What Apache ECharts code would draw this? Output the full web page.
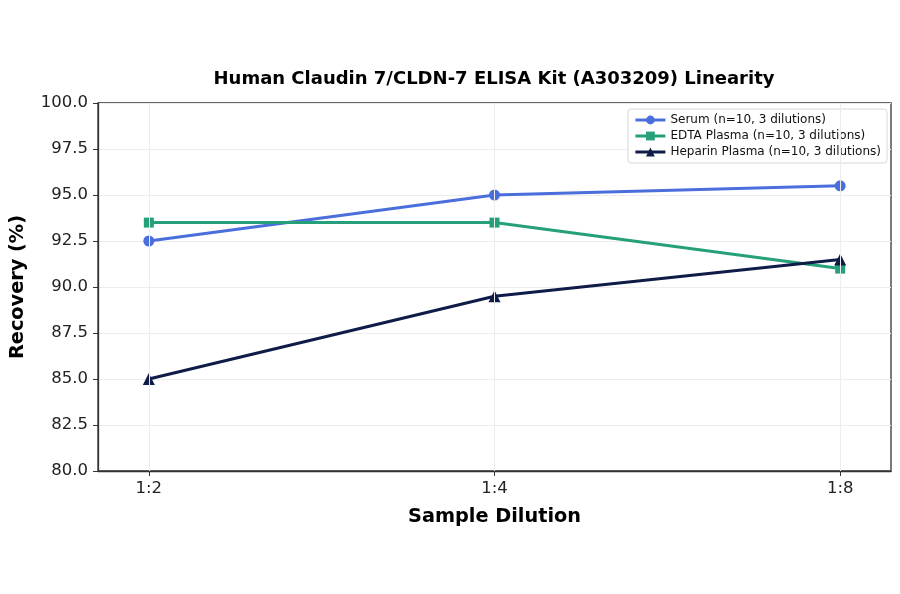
<!DOCTYPE html>
<html>
<head>
<meta charset="utf-8">
<script src="https://cdn.jsdelivr.net/npm/echarts@6/dist/echarts.min.js"></script>
<style>
	html, body { margin: 0; padding: 0; background: #fff; }
	#chart { width: 900px; height: 594px; }
</style>
</head>
<body>
<div id="chart"></div>
<script>
	// dilution categories, placed at 0, 1, 2 on the x axis
	var dilutions = ['1:2', '1:4', '1:8'];
	var serum = [92.5, 95.0, 95.5];
	var edta = [93.5, 93.5, 91.0];
	var heparin = [85.0, 89.5, 91.5];

	function pairs(values) {
		return values.map(function (v, i) { return [i, v]; });
	}

	var font = 'DejaVu Sans';
	var chart = echarts.init(document.getElementById('chart'));

	function line(name, values, color, symbol, size) {
		return {
			name: name,
			type: 'line',
			data: pairs(values),
			symbol: symbol,
			symbolSize: size,
			lineStyle: { color: color, width: 3 },
			itemStyle: { color: color },
			emphasis: { disabled: true },
			z: 3
		};
	}

	chart.setOption({
		animation: false,
		textStyle: { fontFamily: font },
		title: {
			text: 'Human Claudin 7/CLDN-7 ELISA Kit (A303209) Linearity',
			left: 489,
			textAlign: 'center',
			top: 65,
			textStyle: { fontSize: 18, fontWeight: 'bold', color: '#000', fontFamily: font }
		},
		legend: {
			right: 13,
			top: 109,
			orient: 'vertical',
			itemGap: 4,
			itemWidth: 30,
			itemHeight: 11,
			padding: [5, 6, 5, 6],
			borderColor: '#d8d8d8',
			borderWidth: 1,
			borderRadius: 3,
			backgroundColor: 'rgba(255,255,255,0.85)',
			lineStyle: { width: 3 },
			textStyle: { fontSize: 12, color: '#111', fontFamily: font },
			data: [
				'Serum (n=10, 3 dilutions)',
				'EDTA Plasma (n=10, 3 dilutions)',
				'Heparin Plasma (n=10, 3 dilutions)'
			]
		},
		grid: { left: 97, right: 9, top: 103, bottom: 123, show: true, borderColor: '#333', borderWidth: 1.3, backgroundColor: 'transparent' },
		xAxis: {
			type: 'value',
			min: -0.147,
			max: 2.147,
			name: 'Sample Dilution',
			nameLocation: 'middle',
			nameGap: 36,
			nameTextStyle: { fontSize: 19.3, fontWeight: 'bold', color: '#000', fontFamily: font },
			axisLine: { show: true, onZero: false, lineStyle: { color: '#333', width: 1.3 } },
			axisTick: { show: true, length: 5, inside: false, customValues: [0, 1, 2], lineStyle: { color: '#333', width: 1 } },
			axisLabel: {
				customValues: [0, 1, 2],
				fontSize: 16.5,
				color: '#222',
				margin: 9,
				formatter: function (v) { return dilutions[Math.round(v)]; }
			},
			splitLine: { show: false }
		},
		yAxis: {
			type: 'value',
			min: 80,
			max: 100,
			interval: 2.5,
			name: 'Recovery (%)',
			nameLocation: 'middle',
			nameGap: 71,
			nameRotate: 90,
			nameTextStyle: { fontSize: 19.3, fontWeight: 'bold', color: '#000', fontFamily: font },
			axisLine: { show: true, onZero: false, lineStyle: { color: '#333', width: 1.3 } },
			axisTick: { show: true, length: 5, inside: false, lineStyle: { color: '#333', width: 1 } },
			axisLabel: {
				fontSize: 16.5,
				color: '#222',
				margin: 10,
				formatter: function (v) { return v.toFixed(1); }
			},
			splitLine: { show: true, lineStyle: { color: '#ededed', width: 1 } }
		},
		series: [
			line('Serum (n=10, 3 dilutions)', serum, '#4a6fdc', 'circle', 11),
			line('EDTA Plasma (n=10, 3 dilutions)', edta, '#25a07a', 'rect', 10),
			line('Heparin Plasma (n=10, 3 dilutions)', heparin, '#101c48', 'triangle', 12),
			{
				// faint vertical grid lines at each dilution
				type: 'line',
				data: [],
				silent: true,
				markLine: {
					symbol: 'none',
					silent: true,
					label: { show: false },
					lineStyle: { color: '#ededed', width: 1, type: 'solid' },
					data: dilutions.map(function (d, i) { return { xAxis: i }; })
				},
				z: 1
			}
		]
	});
</script>
</body>
</html>
